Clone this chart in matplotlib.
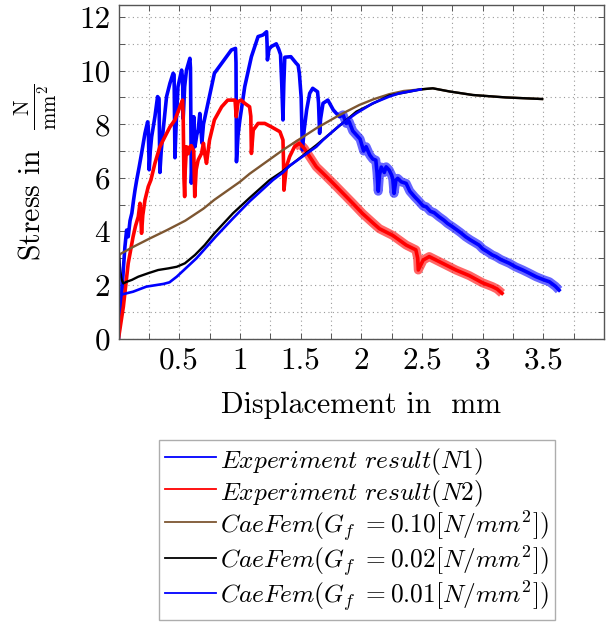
import matplotlib
matplotlib.use("Agg")
import matplotlib.pyplot as plt
import numpy as np

plt.rcParams['font.family'] = ['cmr10', 'DejaVu Serif']
plt.rcParams['mathtext.fontset'] = 'cm'
plt.rcParams['axes.formatter.use_mathtext'] = True

# ---------------- data ----------------
n1_x = [0.0, 0.01, 0.026, 0.04, 0.053, 0.067, 0.08, 0.095, 0.11, 0.125, 0.136, 0.15, 0.17, 0.19,
        0.218, 0.24, 0.245, 0.253, 0.262, 0.273, 0.30, 0.322, 0.334, 0.341, 0.352, 0.368, 0.396,
        0.424, 0.45, 0.458, 0.465, 0.475, 0.49, 0.52, 0.528, 0.533, 0.545, 0.56, 0.588, 0.593,
        0.60, 0.61, 0.62, 0.63, 0.645, 0.656, 0.67, 0.687, 0.70, 0.725, 0.766, 0.79, 0.85, 0.93,
        0.964, 0.968, 0.972, 0.985, 1.0, 1.04, 1.095, 1.15, 1.19, 1.22, 1.224, 1.227, 1.24, 1.26,
        1.30, 1.32, 1.335, 1.345, 1.355, 1.362, 1.37, 1.42, 1.465, 1.48, 1.49, 1.505, 1.515, 1.53,
        1.55, 1.575, 1.60, 1.64, 1.648, 1.657, 1.665, 1.685, 1.725, 1.77, 1.82, 1.85, 1.877, 1.90,
        1.93, 1.96, 1.99, 2.02, 2.04, 2.07, 2.095, 2.12, 2.13, 2.14, 2.15, 2.165, 2.19, 2.205, 2.23,
        2.25, 2.26, 2.27, 2.285, 2.30, 2.33, 2.37, 2.40, 2.44, 2.47, 2.51, 2.535, 2.57, 2.60, 2.64,
        2.68, 2.71, 2.75, 2.79, 2.82, 2.86, 2.90, 2.93, 2.97, 3.00, 3.04, 3.08, 3.11, 3.15, 3.22,
        3.27, 3.33, 3.38, 3.44, 3.50, 3.55, 3.60, 3.63]
n1_y = [0.0, 0.6, 1.56, 2.6, 3.43, 4.05, 3.8, 4.4, 4.68, 5.2, 5.54, 5.92, 6.4, 6.91,
        7.66, 8.09, 7.9, 6.3, 7.0, 7.53, 8.28, 9.03, 8.95, 6.2, 7.0, 7.78, 9.03,
        9.53, 9.9, 9.85, 6.75, 8.0, 9.4, 10.02, 9.7, 8.2, 9.4, 10.02, 10.46, 10.1,
        5.8, 6.8, 8.28, 7.16, 7.6, 7.78, 8.4, 7.3, 8.0, 8.53, 9.4, 9.9, 10.27, 10.77,
        10.83, 10.3, 6.6, 7.6, 8.16, 9.4, 10.52, 11.27, 11.33, 11.45, 11.0, 10.4, 10.8, 10.9,
        11.0, 10.8, 10.6, 9.5, 8.16, 9.5, 10.5, 10.52, 10.27, 10.2, 9.9, 9.0, 7.04, 7.8,
        8.53, 9.15, 9.34, 9.21, 8.8, 7.66, 8.2, 8.78, 8.90, 8.53, 8.28, 8.35, 8.03, 8.1,
        7.75, 7.6, 7.45, 7.0, 7.16, 6.85, 6.7, 6.66, 6.2, 5.5, 6.1, 6.4, 6.2, 6.41, 6.29,
        6.1, 5.95, 5.42, 5.9, 5.98, 5.85, 5.79, 5.5, 5.29, 5.15, 4.95, 4.92, 4.75, 4.7, 4.55,
        4.42, 4.30, 4.18, 4.05, 3.95, 3.80, 3.68, 3.60, 3.49, 3.35, 3.24, 3.12, 3.06, 2.95, 2.81,
        2.68, 2.56, 2.45, 2.31, 2.20, 2.12, 1.95, 1.81]

n2_x = [0.0, 0.02, 0.04, 0.06, 0.08, 0.10, 0.12, 0.14, 0.163, 0.177, 0.183, 0.19, 0.20, 0.218,
        0.245, 0.267, 0.30, 0.341, 0.382, 0.424, 0.465, 0.506, 0.528, 0.533, 0.539, 0.545, 0.55,
        0.56, 0.575, 0.588, 0.60, 0.62, 0.628, 0.64, 0.656, 0.684, 0.70, 0.71, 0.725, 0.75, 0.79,
        0.85, 0.90, 0.96, 0.97, 0.985, 1.01, 1.04, 1.08, 1.09, 1.095, 1.11, 1.15, 1.205, 1.26,
        1.33, 1.355, 1.36, 1.363, 1.383, 1.41, 1.45, 1.49, 1.53, 1.575, 1.63, 1.685, 1.77, 1.85,
        1.93, 2.01, 2.10, 2.15, 2.26, 2.37, 2.45, 2.465, 2.47, 2.51, 2.56, 2.67, 2.78, 2.89, 3.0,
        3.08, 3.12, 3.16]
n2_y = [0.0, 0.6, 1.19, 2.0, 2.81, 3.3, 3.8, 4.2, 4.55, 5.05, 4.6, 3.93, 4.6, 5.17,
        5.67, 5.92, 6.54, 7.16, 7.53, 7.9, 8.16, 8.65, 8.9, 8.3, 6.0, 5.3, 6.3,
        7.16, 6.9, 7.16, 7.2, 7.0, 5.3, 6.3, 6.66, 6.91, 7.29, 6.91, 6.54, 7.41, 8.16,
        8.65, 8.9, 8.9, 8.28, 8.84, 8.9, 8.78, 8.65, 8.3, 6.91, 7.78, 8.03, 8.03, 7.9,
        7.72, 7.41, 6.5, 5.54, 6.41, 6.79, 7.16, 7.29, 7.1, 6.79, 6.41, 6.17, 5.79, 5.42,
        5.05, 4.67, 4.30, 4.1, 3.85, 3.49, 3.31, 3.0, 2.56, 2.93, 3.06, 2.81, 2.56, 2.35, 2.08,
        1.94, 1.85, 1.69]

gf10_x = [0.0, 0.004, 0.012, 0.12, 0.25, 0.40, 0.55, 0.70, 0.79, 1.0, 1.08, 1.355, 1.63,
          1.82, 1.985, 2.10, 2.23, 2.35, 2.49, 2.59, 2.73, 2.92, 3.19, 3.49]
gf10_y = [0.0, 3.0, 3.15, 3.42, 3.72, 4.05, 4.4, 4.85, 5.18, 5.85, 6.15, 7.04, 7.85,
          8.34, 8.72, 8.93, 9.12, 9.24, 9.30, 9.34, 9.22, 9.09, 9.0, 8.94]

gf02_x = [0.0, 0.004, 0.015, 0.026, 0.04, 0.067, 0.11, 0.163, 0.245, 0.327, 0.41, 0.48, 0.547,
          0.63, 0.71, 0.79, 0.944, 1.08, 1.246, 1.355, 1.63, 1.96, 2.23, 2.49, 2.59, 2.73, 2.92,
          3.19, 3.49]
gf02_y = [0.0, 3.06, 2.5, 2.2, 2.06, 2.12, 2.19, 2.31, 2.44, 2.56, 2.62, 2.68, 2.81,
          3.12, 3.49, 3.93, 4.68, 5.25, 5.92, 6.25, 7.22, 8.47, 9.07, 9.30, 9.34, 9.22, 9.09,
          9.0, 8.94]

gf01_x = [0.0, 0.003, 0.008, 0.012, 0.12, 0.23, 0.37, 0.42, 0.48, 0.643, 0.80, 0.944, 1.08,
          1.273, 1.355, 1.41, 1.63, 1.685, 1.82, 1.96, 2.095, 2.23, 2.31, 2.49]
gf01_y = [0.0, 3.0, 1.7, 1.63, 1.75, 1.94, 2.04, 2.1, 2.31, 3.0, 3.8, 4.49, 5.12,
          5.92, 6.2, 6.45, 7.16, 7.41, 7.95, 8.41, 8.78, 9.03, 9.15, 9.30]

labels = [r'$Experiment\ result(N1)$',
          r'$Experiment\ result(N2)$',
          r'$CaeFem(G_f\ = 0.10[N/mm^2])$',
          r'$CaeFem(G_f\ = 0.02[N/mm^2])$',
          r'$CaeFem(G_f\ = 0.01[N/mm^2])$']

x_tick_vals = [0.5, 1.0, 1.5, 2.0, 2.5, 3.0, 3.5]
x_tick_labels = ['0.5', '1', '1.5', '2', '2.5', '3', '3.5']
y_tick_vals = [0, 2, 4, 6, 8, 10, 12]
y_tick_labels = ['0', '2', '4', '6', '8', '10', '12']

# ---------------- figure ----------------
W, H = 608, 625
fig = plt.figure(figsize=(W / 100, H / 100), dpi=100)
ax = fig.add_axes([118.5 / W, 1 - 338.6 / H, (604 - 118.5) / W, (338.6 - 4.7) / H])

c_blue, c_red, c_brown = '#0000ff', '#ff0000', '#7d5631'

n1x, n1y = np.array(n1_x), np.array(n1_y)
n2x, n2y = np.array(n2_x), np.array(n2_y)

# noisy band for experimental descending parts
m1 = n1x >= 1.8
m2 = n2x >= 1.45
ax.plot(n1x[m1], n1y[m1], color=c_blue, lw=6.5, alpha=0.6, solid_capstyle='butt')
ax.plot(n2x[m2], n2y[m2], color=c_red, lw=6.5, alpha=0.6, solid_capstyle='butt')

l1, = ax.plot(n1x, n1y, color=c_blue, lw=2.6, label=labels[0])
l2, = ax.plot(n2x, n2y, color=c_red, lw=2.6, label=labels[1])
l3, = ax.plot(gf10_x, gf10_y, color=c_brown, lw=1.7, label=labels[2])
l4, = ax.plot(gf02_x, gf02_y, color='black', lw=1.7, label=labels[3])
l5, = ax.plot(gf01_x, gf01_y, color=c_blue, lw=1.9, label=labels[4])

ax.set_xlim(0, 4.0)
ax.set_ylim(0, 12.46)

ax.set_xticks(x_tick_vals)
ax.set_xticklabels(x_tick_labels)
ax.set_xticks(np.arange(0.25, 4.0, 0.25), minor=True)
ax.set_yticks(y_tick_vals)
ax.set_yticklabels(y_tick_labels)
ax.set_yticks(np.arange(1, 12.5, 1), minor=True)

ax.tick_params(which='both', direction='in', top=True, right=True,
               length=4, width=0.7, color='#555555', labelsize=22.5, pad=6)
ax.grid(which='both', linestyle=(0, (1, 3)), color='#9a9a9a', lw=0.8)
ax.set_axisbelow(True)
for s in ax.spines.values():
    s.set_color('#555555')
    s.set_linewidth(1.0)

ax.set_xlabel(r'Displacement in  mm', fontsize=21.5, labelpad=12)
ax.set_ylabel(r'Stress in  $\frac{\mathrm{N}}{\mathrm{mm}^2}$', fontsize=21.5, labelpad=14)

leg = ax.legend(handles=[l1, l2, l3, l4, l5], loc='upper left',
                bbox_to_anchor=(159 / W, 1 - 440 / H), bbox_transform=fig.transFigure,
                fontsize=18.3, frameon=True, fancybox=False, edgecolor='#999999',
                handlelength=2.0, handleheight=1.27, handletextpad=0.15, borderpad=0.25,
                labelspacing=0.0, borderaxespad=0.0)
leg.get_frame().set_linewidth(1.0)
for ln in leg.get_lines():
    ln.set_linewidth(1.3)

fig.savefig('out.png', dpi=100)
